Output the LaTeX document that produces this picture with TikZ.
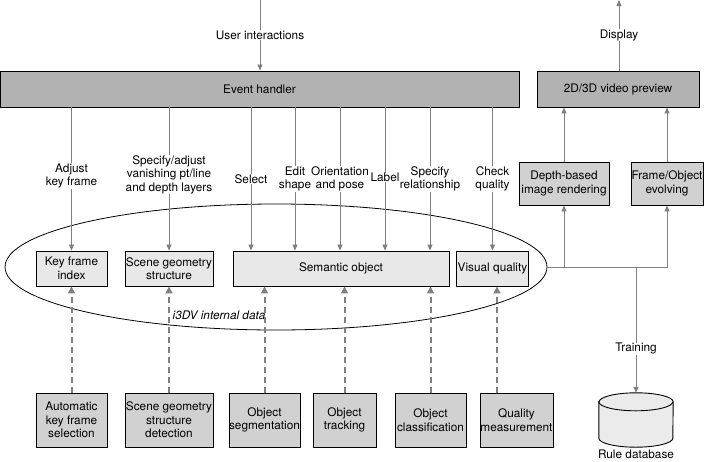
\documentclass[tikz,border=0pt]{standalone}
\usepackage{fontspec}
\setmainfont{TeX Gyre Heros}
\usetikzlibrary{arrows.meta,shapes.geometric}
\tikzset{
  handlerbox/.style={draw=black, line width=0.9pt, fill=black!30, inner sep=1pt, align=center},
  databox/.style={draw=black, line width=0.9pt, fill=black!9, inner sep=1pt, align=center},
  algobox/.style={draw=black, line width=0.9pt, fill=black!18, inner sep=0pt, align=center},
  flow/.style={draw=black!50, line width=0.8pt, -{Triangle[length=6pt,width=5pt]}, black!50},
  dashflow/.style={draw=black!50, line width=2pt, dash pattern=on 6pt off 4pt, -{Triangle[length=7pt,width=7pt]}, black!50},
  flowlabel/.style={fill=white, inner sep=0.5pt, align=center, text=black},
  dbshape/.style={draw=black, line width=0.9pt, fill=black!8},
}
\begin{document}
\begin{tikzpicture}[x=1pt, y=-1pt, font=\fontsize{11.8}{13.5}\selectfont]
\useasboundingbox (0,0) rectangle (704,461);
% internal data ring
\node[draw=black, line width=0.8pt, ellipse, minimum width=542pt, minimum height=126pt] (internal) at (276,267) {};
\node[font=\fontsize{11.8}{13.5}\selectfont\itshape, inner sep=0pt] (intlabel) at (219,315) {i3DV internal data};
% top row
\node[handlerbox, minimum width=519pt, minimum height=36pt] (eh) at (259.5,89) {Event handler};
\node[handlerbox, minimum width=162pt, minimum height=36pt] (prev) at (618,89) {2D/3D video preview};
\node[algobox, minimum width=90pt, minimum height=43pt] (render) at (564,183.5) {Depth-based\\image rendering};
\node[algobox, minimum width=72pt, minimum height=43pt] (evolve) at (667,183.5) {Frame/Object\\evolving};
% internal data
\node[databox, minimum width=71pt, minimum height=35pt] (kfi) at (71.5,268.5) {Key frame\\index};
\node[databox, minimum width=88pt, minimum height=35pt] (sg) at (169,268.5) {Scene geometry\\structure};
\node[databox, minimum width=216pt, minimum height=35pt] (semobj) at (341,268.5) {Semantic object};
\node[databox, minimum width=71pt, minimum height=35pt] (vq) at (492.5,268.5) {Visual quality};
% automatic tools
\node[algobox, minimum width=71pt, minimum height=54pt] (autokf) at (71.5,420) {Automatic\\key frame\\selection};
\node[algobox, minimum width=88pt, minimum height=54pt] (sgdet) at (169,420) {Scene geometry\\structure\\detection};
\node[algobox, minimum width=71pt, minimum height=54pt] (objseg) at (264.5,420) {Object\\segmentation};
\node[algobox, minimum width=63pt, minimum height=54pt] (objtrack) at (344.5,420) {Object\\tracking};
\node[algobox, minimum width=71pt, minimum height=54pt] (objcls) at (430.5,420) {Object\\classification};
\node[algobox, minimum width=73pt, minimum height=54pt] (qualm) at (516.5,420) {Quality\\measurement};
% rule database drum
\node[minimum width=74pt, minimum height=54pt, inner sep=0pt] (ruledb) at (636,420) {};
\draw[dbshape] ([yshift=-9pt]ruledb.north west) -- ([yshift=9pt]ruledb.south west)
  arc[start angle=180, end angle=0, x radius=37, y radius=9]
  -- ([yshift=-9pt]ruledb.north east)
  arc[start angle=0, end angle=-180, x radius=37, y radius=9] -- cycle;
\draw[dbshape, fill=none] ([yshift=-9pt]ruledb.north west) arc[start angle=180, end angle=0, x radius=37, y radius=9];
\node[inner sep=0pt] (rulelabel) at (636,454) {Rule database};
% in and out
\coordinate (usr) at (260,0);
\coordinate (disp) at (619,0);
\draw[flow] (usr) -- node[flowlabel] (lusr) {User interactions} (usr |- eh.north);
\draw[flow] (prev.north -| disp) -- node[flowlabel] (ldisp) {Display} (disp);
% user edits
\draw[flow] (eh.south -| kfi) -- node[flowlabel, pos=0.48] (ladj) {Adjust\\key frame} (kfi.north);
\draw[flow] (eh.south -| sg) -- node[flowlabel, pos=0.47] (lvan) {Specify/adjust\\vanishing pt/line\\and depth layers} (sg.north);
\draw[flow] (eh.south -| 251,0) -- node[flowlabel] (lsel) {Select} (semobj.north -| 251,0);
\draw[flow] (eh.south -| 295,0) -- node[flowlabel] (ledit) {Edit\\shape} (semobj.north -| 295,0);
\draw[flow] (eh.south -| 340,0) -- node[flowlabel] (lpose) {Orientation\\and pose} (semobj.north -| 340,0);
\draw[flow] (eh.south -| 385,0) -- node[flowlabel, pos=0.49] (llab) {Label} (semobj.north -| 385,0);
\draw[flow] (eh.south -| 430,0) -- node[flowlabel] (lrel) {Specify\\relationship} (semobj.north -| 430,0);
\draw[flow] (eh.south -| vq) -- node[flowlabel] (lchk) {Check\\quality} (vq.north);
% automatic results
\draw[dashflow] (autokf.north) -- (kfi.south);
\draw[dashflow] (sgdet.north) -- (sg.south);
\draw[dashflow] (objseg.north) -- (objseg.north |- semobj.south);
\draw[dashflow] (objtrack.north) -- (objtrack.north |- semobj.south);
\draw[dashflow] (objcls.north) -- (objcls.north |- semobj.south);
\draw[dashflow] (qualm.north -| 497,0) -- (vq.south -| 497,0);
% rendering side
\draw[flow] (internal.east) -| (render.south);
\draw[flow] (internal.east) -| (evolve.south);
\draw[flow] (internal.east -| ruledb) -- node[flowlabel, pos=0.65] (ltrain) {Training} (ruledb.north);
\draw[flow] (render.north) -- (render.north |- prev.south);
\draw[flow] (evolve.north) -- (evolve.north |- prev.south);
\end{tikzpicture}
\end{document}
